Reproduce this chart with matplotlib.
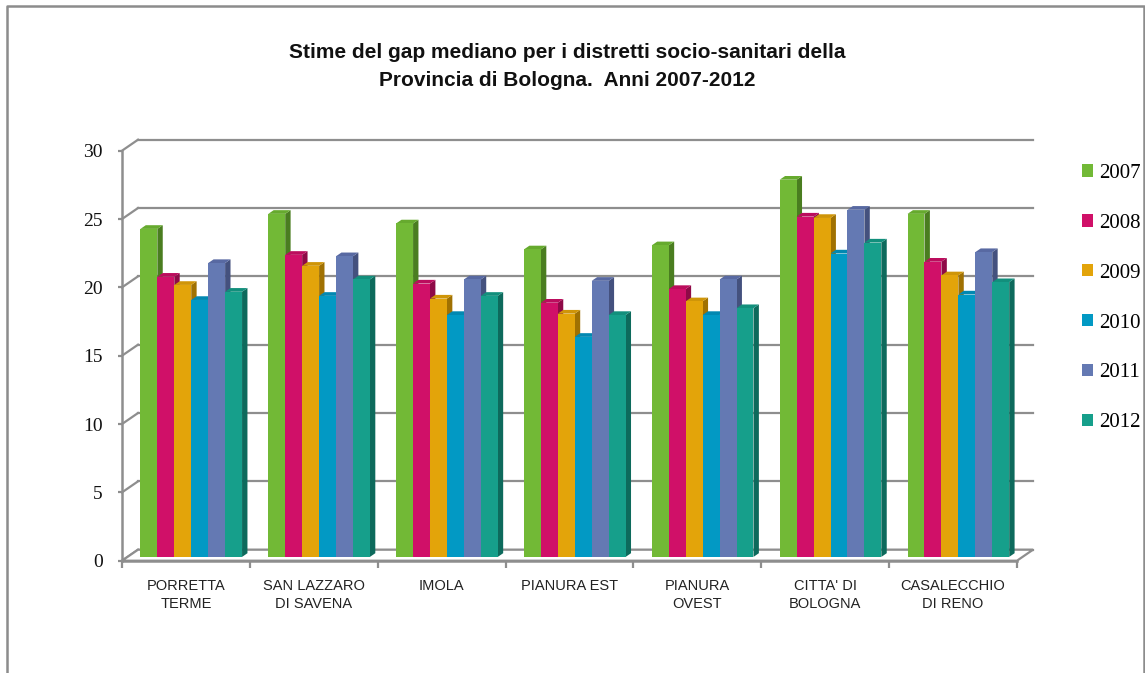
import matplotlib
matplotlib.use("Agg")
import matplotlib.pyplot as plt
from matplotlib.patches import Polygon
from matplotlib.lines import Line2D

# Districts (x categories) and series
districts = ["PORRETTA\nTERME", "SAN LAZZARO\nDI SAVENA", "IMOLA", "PIANURA EST",
             "PIANURA\nOVEST", "CITTA' DI\nBOLOGNA", "CASALECCHIO\nDI RENO"]
years = ["2007", "2008", "2009", "2010", "2011", "2012"]

gap_2007 = [24.0, 25.1, 24.4, 22.5, 22.8, 27.6, 25.1]
gap_2008 = [20.5, 22.1, 20.0, 18.6, 19.6, 24.9, 21.6]
gap_2009 = [19.9, 21.3, 18.9, 17.8, 18.7, 24.8, 20.6]
gap_2010 = [18.8, 19.1, 17.7, 16.1, 17.7, 22.2, 19.2]
gap_2011 = [21.5, 22.0, 20.3, 20.2, 20.3, 25.4, 22.3]
gap_2012 = [19.4, 20.3, 19.1, 17.7, 18.2, 23.0, 20.1]
series = [gap_2007, gap_2008, gap_2009, gap_2010, gap_2011, gap_2012]

y_ticks = [0, 5, 10, 15, 20, 25, 30]

# front / side / top colours for the pseudo-3D columns
front_cols = ["#72b936", "#d01068", "#e3a40a", "#0299c4", "#6479b3", "#169f8b"]
side_cols = ["#4a7d20", "#8e0a47", "#a07102", "#016e8d", "#44517e", "#0d6a5c"]
top_cols = ["#66aa2e", "#bb0d5d", "#cf9508", "#0288b1", "#5869a2", "#128f7c"]

GRID = "#8e8e8e"
W, H, DPI = 1145, 673, 100

fig = plt.figure(figsize=(W / DPI, H / DPI), dpi=DPI)
fig.patch.set_facecolor("white")

# axes placed in pixel terms: x from 122 to 1017, y (from top) from 150.7 to 560.7
left_px, right_px, top_px, bot_px = 122, 1017, 150.7, 560.7
ax = fig.add_axes([left_px / W, (H - bot_px) / H,
                   (right_px - left_px) / W, (bot_px - top_px) / H])
ncat = len(districts)
ax.set_xlim(0, ncat)
ax.set_ylim(0, 30)
ax.set_facecolor("none")

# pixel -> data conversion for the depth offsets
p0 = ax.transData.transform((0, 0))
p1 = ax.transData.transform((1, 1))
px_x = p1[0] - p0[0]
px_y = p1[1] - p0[1]


def dxy(dx_px, dy_px):
    return dx_px / px_x, dy_px / px_y


wall_dx, wall_dy = dxy(16, 11)      # full depth of the box
f_dx, f_dy = dxy(5.3, 3.8)          # front face of the columns
b_dx, b_dy = dxy(10.7, 7.5)         # back face of the columns

# back-wall gridlines and side-wall diagonals
for v in y_ticks:
    ax.add_line(Line2D([wall_dx, ncat + wall_dx], [v + wall_dy, v + wall_dy],
                       color=GRID, lw=1.6, clip_on=False, zorder=1))
    ax.add_line(Line2D([0, wall_dx], [v, v + wall_dy],
                       color=GRID, lw=1.6, clip_on=False, zorder=1))

# floor
floor = Polygon([(0, 0), (ncat, 0), (ncat + wall_dx, wall_dy), (wall_dx, wall_dy)],
                closed=True, facecolor="white", edgecolor=GRID, lw=1.6,
                clip_on=False, zorder=1.5)
ax.add_patch(floor)

# columns
bar_w = 0.1325
nser = len(series)
handles = []
for j, vals in enumerate(series):
    z = 3 + j * 0.1
    xs = [i + 0.5 + (j - (nser - 1) / 2) * bar_w for i in range(ncat)]
    bars = ax.bar([x + f_dx for x in xs], vals, width=bar_w, bottom=f_dy,
                  color=front_cols[j], edgecolor="none", zorder=z, clip_on=False,
                  label=years[j])
    handles.append(bars)
    for x, h in zip(xs, vals):
        xl, xr = x - bar_w / 2, x + bar_w / 2
        side = Polygon([(xr + f_dx, f_dy), (xr + f_dx, h + f_dy),
                        (xr + b_dx, h + b_dy), (xr + b_dx, b_dy)],
                       closed=True, facecolor=side_cols[j], edgecolor="none",
                       zorder=z - 0.05, clip_on=False)
        top = Polygon([(xl + f_dx, h + f_dy), (xr + f_dx, h + f_dy),
                       (xr + b_dx, h + b_dy), (xl + b_dx, h + b_dy)],
                      closed=True, facecolor=top_cols[j], edgecolor="none",
                      zorder=z - 0.04, clip_on=False)
        ax.add_patch(side)
        ax.add_patch(top)

# axes styling
for s in ("top", "right"):
    ax.spines[s].set_visible(False)
for s in ("left", "bottom"):
    ax.spines[s].set_color(GRID)
    ax.spines[s].set_linewidth(1.8)
    ax.spines[s].set_zorder(2)

ax.set_yticks(y_ticks)
ax.set_yticklabels([str(t) for t in y_ticks], family="Liberation Serif",
                   fontsize=14, color="#111111")
ax.tick_params(axis="y", length=3, width=1.6, color=GRID, pad=11)

ax.set_xticks(range(ncat + 1))
ax.set_xticklabels([])
ax.tick_params(axis="x", which="major", length=5, width=1.6, color=GRID)
ax.set_xticks([i + 0.5 for i in range(ncat)], minor=True)
ax.set_xticklabels(districts, minor=True, family="Liberation Sans", fontsize=10.5,
                   color="#222222", linespacing=1.4, va="top")
ax.tick_params(axis="x", which="minor", length=0, pad=13)

# legend
ax.legend(handles=handles, labels=years, loc="upper left",
          bbox_to_anchor=(1081.7 / W, (H - 164) / H), bbox_transform=fig.transFigure,
          frameon=False, prop={"family": "Liberation Serif", "size": 15},
          handlelength=0.53, handleheight=0.53, handletextpad=0.3,
          labelspacing=1.48, borderpad=0, borderaxespad=0)

# title
fig.text(567.5 / W, (H - 67) / H,
         "Stime del gap mediano per i distretti socio-sanitari della\n"
         "Provincia di Bologna.  Anni 2007-2012",
         ha="center", va="center", multialignment="center",
         family="Liberation Sans", fontweight="bold", fontsize=15,
         color="#111111", linespacing=1.6)

# outer frame (left, top, right)
fig.add_artist(Line2D([7 / W, 7 / W, 1143.5 / W, 1143.5 / W],
                      [0, (H - 6) / H, (H - 6) / H, 0],
                      transform=fig.transFigure, color="#8c8c8c", lw=1.8))

fig.savefig("out.png", dpi=DPI)
